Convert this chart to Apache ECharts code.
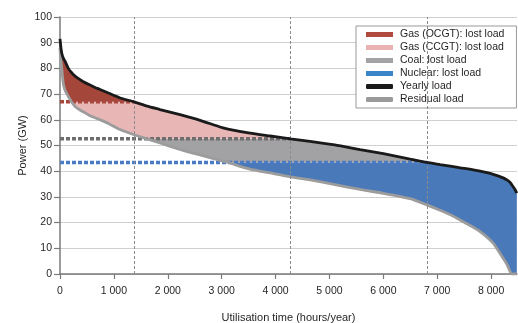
<!DOCTYPE html>
<html>
<head>
<meta charset="utf-8">
<script src="https://cdn.jsdelivr.net/npm/echarts@6/dist/echarts.min.js"></script>
<style>
  html, body { margin: 0; padding: 0; background: #fff; }
  #chart { width: 518px; height: 323px; }
</style>
</head>
<body>
<div id="chart"></div>
<script>
// utilisation time (hours/year) where both curves were read
const hours = [0, 8, 15, 32, 60, 93, 154, 213, 280, 371,
  433, 557, 650, 742, 897, 1114, 1374, 1615, 1856, 2227,
  2599, 2970, 3118, 3527, 3900, 4275, 4640, 5100, 5568, 6000,
  6497, 6806, 7053, 7300, 7425, 7600, 7796, 8037, 8223, 8300,
  8353, 8384, 8440, 8477]
const yearlyLoad = [91.5, 90, 88.5, 86, 84, 82.8, 80, 78.4, 77, 75.6,
  74.8, 73.5, 72.6, 71.8, 70.4, 68.5, 67, 65.3, 64, 62,
  59.8, 57.2, 56.4, 54.8, 53.7, 52.6, 51.6, 50.2, 48.4, 46.8,
  44.7, 43.4, 42.6, 41.8, 41.3, 40.8, 40, 38.8, 37.4, 36.5,
  35.6, 34.7, 33, 31.5]
const residualLoad = [88, 85, 83.5, 80, 74.3, 71.5, 69.1, 67, 65.2, 63.8,
  63.1, 61.6, 60.8, 60, 58.6, 56.2, 54.2, 52.6, 51, 48.5,
  46.3, 44.2, 43.4, 40.8, 39.3, 37.8, 36.6, 34.8, 32.9, 31.4,
  29.3, 26.9, 24.8, 22.5, 21, 19, 16.5, 12, 6.1, 3.5,
  0.9, 0, 0, 0]

// capacity levels (GW): OCGT, CCGT, coal — and the hours where the load meets them
const levels = [67, 52.6, 43.4]
const cutoffHours = [1374, 4275, 6806]

const xTicks = [0, 1000, 2000, 3000, 4000, 5000, 6000, 7000, 8000]

const names = ['Gas (OCGT): lost load', 'Gas (CCGT): lost load', 'Coal: lost load', 'Nuclear: lost load', 'Yearly load', 'Residual load']
const areaColors = ['#a4463a', '#e7b6b5', '#a2a2a5', '#4a79b9']
const legendColors = ['#b04a3e', '#eab2b2', '#a3a3a6', '#3a86c8', '#1a1a1a', '#9a9a9a']
const levelColors = ['#a8473c', '#6e6e70', '#4a7bc4']

const chart = echarts.init(document.getElementById('chart'))

// split the gap between residual and yearly load into stacked bands
// rows are [value, hours] so the stack runs on the value dimension
const base = [], nuclear = [], coal = [], ccgt = [], ocgt = []
hours.forEach((h, i) => {
  const L = yearlyLoad[i]
  const r = residualLoad[i]
  const b1 = Math.max(r, Math.min(L, levels[2]))
  const b2 = Math.max(b1, Math.min(L, levels[1]))
  const b3 = Math.max(b2, Math.min(L, levels[0]))
  base.push([r, h])
  nuclear.push([b1 - r, h])
  coal.push([b2 - b1, h])
  ccgt.push([b3 - b2, h])
  ocgt.push([L - b3, h])
})

const bandSeries = (name, data, color) => ({
  name,
  type: 'line',
  stack: 'lost',
  data,
  encode: { x: 1, y: 0 },
  symbol: 'none',
  silent: true,
  lineStyle: { width: 0, color },
  itemStyle: { color },
  areaStyle: { color, opacity: 1 },
  z: 2
})

const fmt = v => String(v).replace(/\B(?=(\d{3})+(?!\d))/g, ' ')

const series = [
  {
    name: 'base', type: 'line', stack: 'lost', data: base, encode: { x: 1, y: 0 },
    symbol: 'none', silent: true, lineStyle: { width: 0 }, z: 2
  },
  bandSeries(names[3], nuclear, areaColors[3]),
  bandSeries(names[2], coal, areaColors[2]),
  bandSeries(names[1], ccgt, areaColors[1]),
  bandSeries(names[0], ocgt, areaColors[0])
]

// dashed capacity levels
levels.forEach((lv, i) => {
  series.push({
    type: 'line',
    data: [[0, lv], [cutoffHours[i], lv]],
    symbol: 'none',
    silent: true,
    lineStyle: { color: levelColors[i], width: 3.5, type: [4, 2] },
    z: 3
  })
})

series.push({
  name: names[5], type: 'line',
  data: hours.map((h, i) => [h, residualLoad[i]]),
  symbol: 'none',
  smooth: 0.2,
  lineStyle: { color: '#9c9c9c', width: 2.8 },
  itemStyle: { color: '#9c9c9c' },
  z: 4,
  markLine: {
    symbol: 'none', silent: true, label: { show: false },
    lineStyle: { color: '#8a8a8a', width: 1, type: [3, 2] },
    data: cutoffHours.map(h => ({ xAxis: h }))
  }
})
series.push({
  name: names[4], type: 'line',
  data: hours.map((h, i) => [h, yearlyLoad[i]]),
  symbol: 'none',
  smooth: 0.2,
  lineStyle: { color: '#1a1a1a', width: 2.8 },
  itemStyle: { color: '#1a1a1a' },
  z: 5
})

chart.setOption({
  animation: false,
  textStyle: { fontFamily: 'Liberation Sans', color: '#333' },
  grid: { left: 60, right: 1, top: 17, bottom: 49, containLabel: false, outerBoundsMode: 'none' },
  legend: {
    orient: 'vertical',
    left: 356,
    top: 26,
    padding: [3, 12, 3, 10],
    itemGap: 2,
    itemWidth: 27,
    itemHeight: 5,
    backgroundColor: '#fff',
    borderColor: '#999',
    borderWidth: 1,
    textStyle: { fontSize: 10.5, lineHeight: 11, color: '#231f20', padding: [0, 0, 0, 2] },
    data: names.map((n, i) => ({
      name: n,
      icon: i < 4 ? 'rect' : 'roundRect',
      itemStyle: { color: legendColors[i], borderWidth: 0 }
    }))
  },
  xAxis: {
    type: 'value',
    min: 0,
    max: 8480,
    name: 'Utilisation time (hours/year)',
    nameLocation: 'middle',
    nameGap: 38,
    nameMoveOverlap: false,
    nameTextStyle: { fontSize: 11, color: '#231f20' },
    axisLine: { show: true, onZero: false, lineStyle: { color: '#7a7a7a', width: 1.5 } },
    axisTick: { show: true, length: 5, customValues: xTicks, lineStyle: { color: '#7a7a7a', width: 1.2 } },
    axisLabel: { customValues: xTicks, margin: 12, fontSize: 10.5, color: '#231f20', formatter: fmt },
    splitLine: { show: false }
  },
  yAxis: {
    type: 'value',
    min: 0,
    max: 100,
    interval: 10,
    name: 'Power (GW)',
    nameLocation: 'middle',
    nameGap: 32,
    nameMoveOverlap: false,
    nameTextStyle: { fontSize: 11, color: '#231f20' },
    axisLine: { show: true, lineStyle: { color: '#7a7a7a', width: 1.5 } },
    axisTick: { show: true, length: 6, lineStyle: { color: '#7a7a7a', width: 1.2 } },
    axisLabel: { margin: 8, fontSize: 10.5, color: '#231f20' },
    splitLine: { lineStyle: { color: '#d0d0d0', width: 1.2 } }
  },
  series
})
</script>
</body>
</html>
